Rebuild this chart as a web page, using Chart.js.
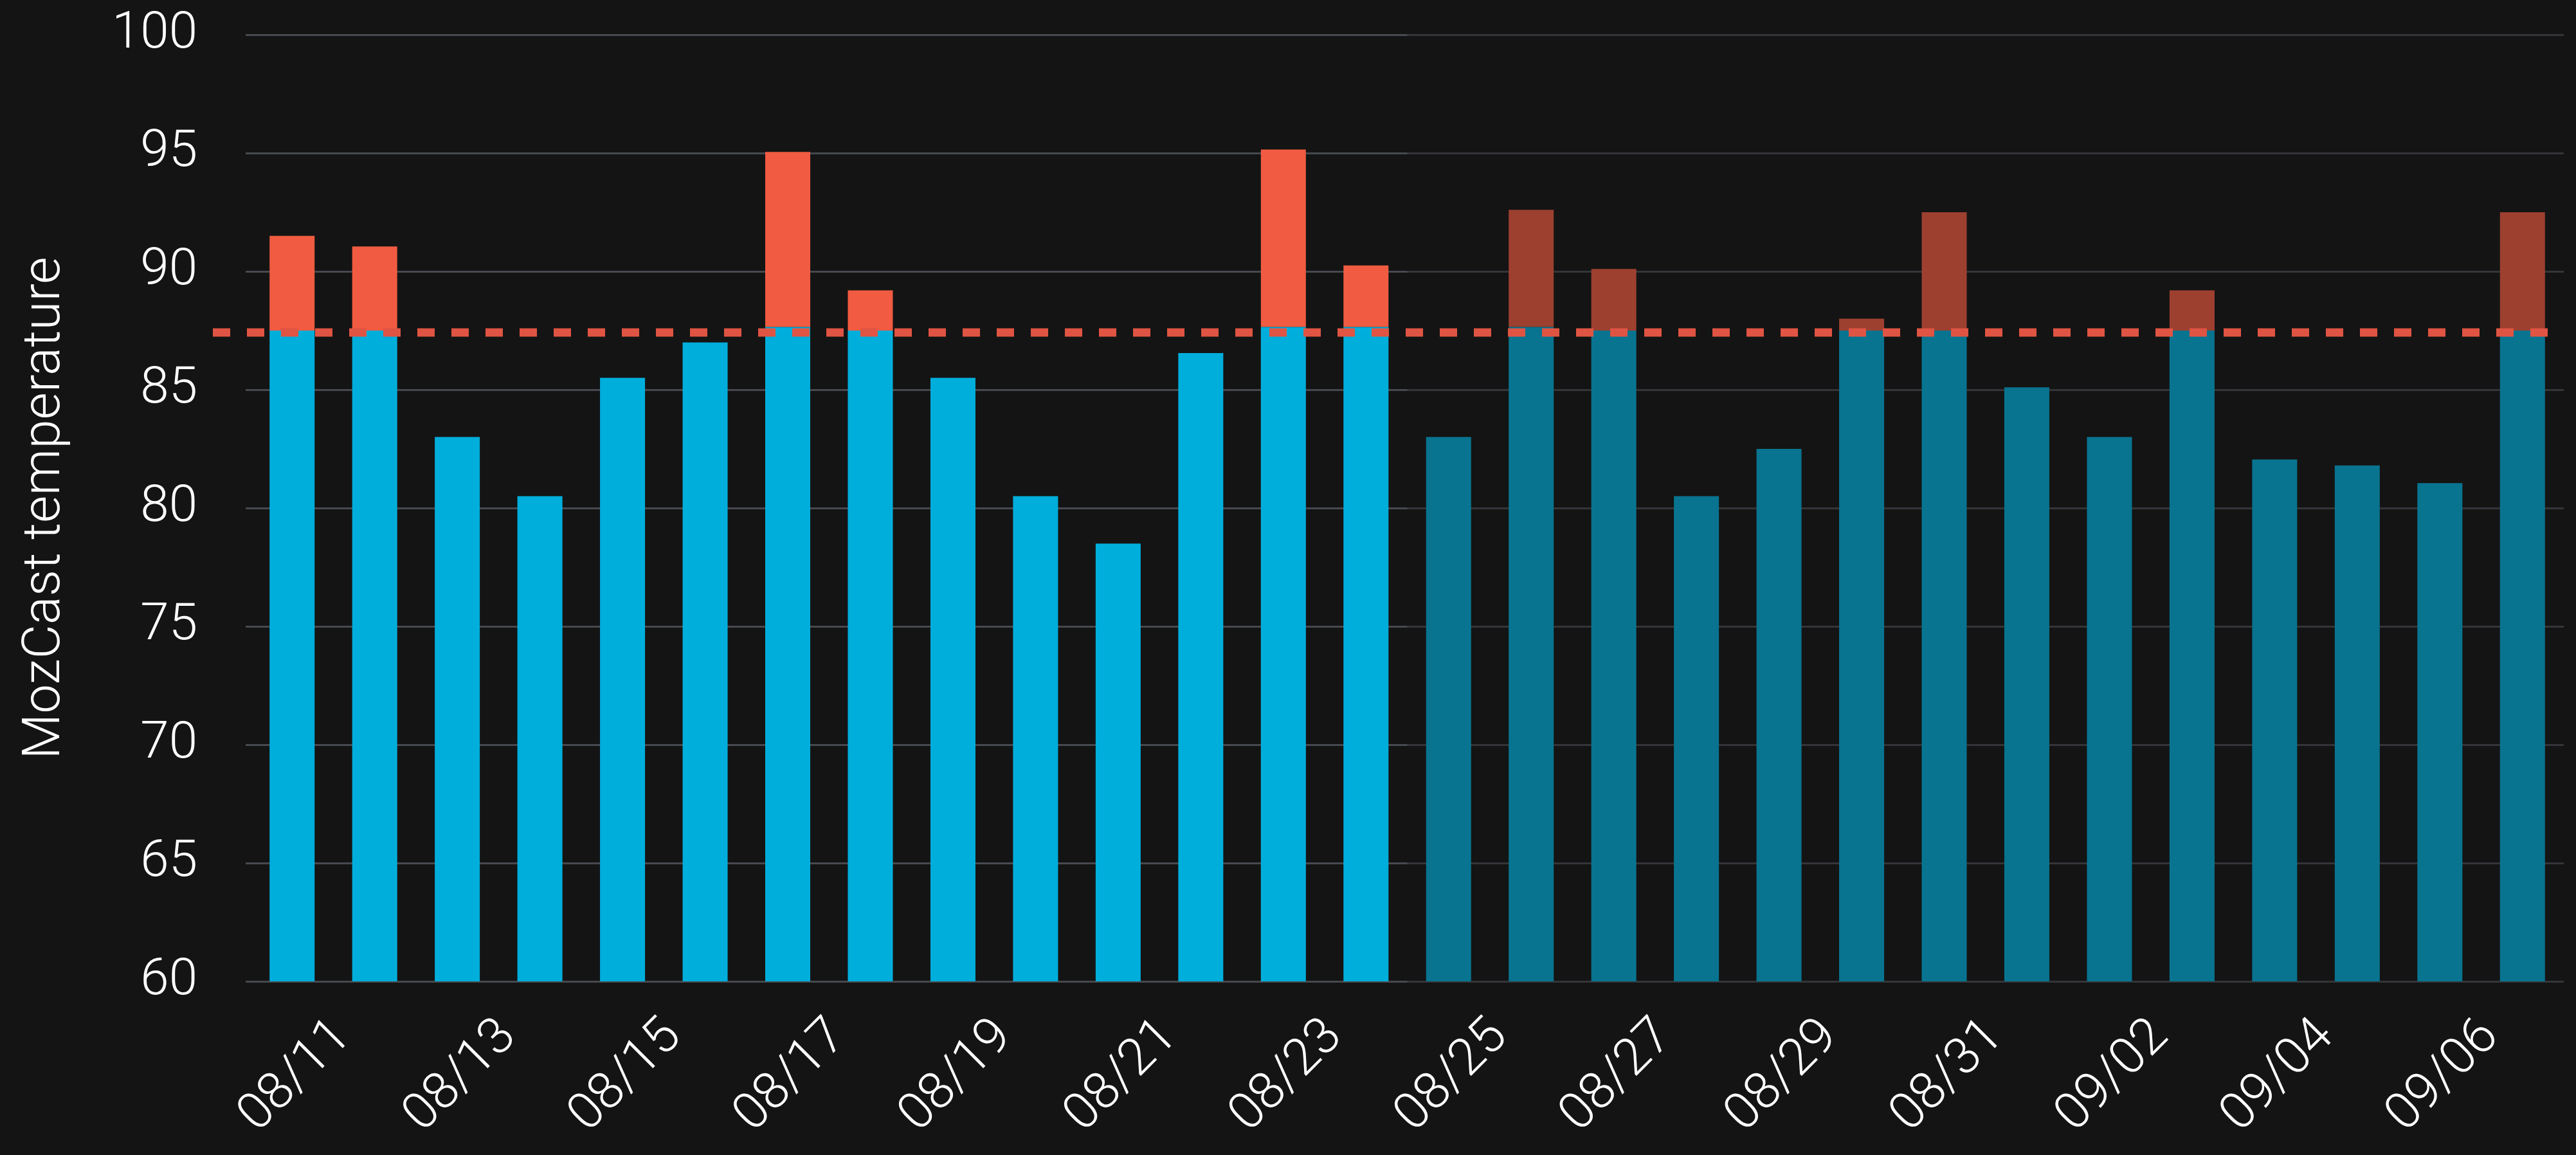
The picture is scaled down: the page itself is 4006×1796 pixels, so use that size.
<!DOCTYPE html>
<html>
  <head>
    <meta charset="utf-8">
    <title>MozCast temperature</title>
    <script src="https://cdn.jsdelivr.net/npm/chart.js@4/dist/chart.umd.min.js"></script>
    <style>
      html, body { margin: 0; padding: 0; background: #141414; }
      canvas { display: block; }
    </style>
  </head>
  <body>
    <canvas id="chart" width="4006" height="1796"></canvas>
    <script>
// days shown on the x axis
var days = ['08/11', '08/12', '08/13', '08/14', '08/15', '08/16', '08/17',
            '08/18', '08/19', '08/20', '08/21', '08/22', '08/23', '08/24',
            '08/25', '08/26', '08/27', '08/28', '08/29', '08/30', '08/31',
            '09/01', '09/02', '09/03', '09/04', '09/05', '09/06', '09/07'];

// full temperature of each day (top of bar)
var temps = [91.5, 91.05, 83.0, 80.5, 85.5, 87.0, 95.05,
             89.2, 85.5, 80.5, 78.5, 86.55, 95.15, 90.25,
             83.0, 92.6, 90.1, 80.5, 82.5, 88.0, 92.5,
             85.1, 83.0, 89.2, 82.05, 81.8, 81.05, 92.5];

// blue part of each bar (the "normal" range)
var normalPart = [87.5, 87.5, 83.0, 80.5, 85.5, 87.0, 87.65,
                  87.5, 85.5, 80.5, 78.5, 86.55, 87.65, 87.65,
                  83.0, 87.65, 87.5, 80.5, 82.5, 87.5, 87.5,
                  85.1, 83.0, 87.5, 82.05, 81.8, 81.05, 87.5];

var yTicks = [60, 65, 70, 75, 80, 85, 90, 95, 100];
var threshold = 87.42;     // dashed line
var shadedFrom = 14;       // first day of the darker part (08/25)

var hotPart = temps.map(function (t, i) {
    return t > normalPart[i] ? [normalPart[i], t] : null;
});

var fontFamily = "Roboto, 'Open Sans', sans-serif";

// darkens the later days, then draws the dashed line on top
var overlayPlugin = {
    id: 'overlay',
    afterDatasetsDraw: function (chart) {
        var ctx = chart.ctx;
        var area = chart.chartArea;
        var x = chart.scales.x;
        var y = chart.scales.y;
        var x0 = (x.getPixelForValue(shadedFrom - 1) + x.getPixelForValue(shadedFrom)) / 2;

        ctx.save();
        ctx.fillStyle = 'rgba(20, 20, 20, 0.38)';
        ctx.fillRect(x0, area.top - 3, area.right + 20 - x0, area.bottom - area.top + 6);

        var yy = y.getPixelForValue(threshold);
        ctx.strokeStyle = '#e05443';
        ctx.lineWidth = 13;
        ctx.setLineDash([27, 26]);
        ctx.beginPath();
        ctx.moveTo(area.left - 59, yy);
        ctx.lineTo(area.right, yy);
        ctx.stroke();
        ctx.restore();
    }
};

var ctx = document.getElementById('chart').getContext('2d');
new Chart(ctx, {
    type: 'bar',
    data: {
        labels: days,
        datasets: [{
            label: 'normal',
            data: normalPart,
            backgroundColor: '#00aedb',
            barPercentage: 0.545,
            categoryPercentage: 1.0
        }, {
            label: 'hot',
            data: hotPart,
            backgroundColor: '#f05b41',
            barPercentage: 0.545,
            categoryPercentage: 1.0
        }]
    },
    options: {
        responsive: false,
        devicePixelRatio: 1,
        animation: false,
        layout: { padding: { top: 54, right: 19, left: 0, bottom: 0 } },
        plugins: {
            legend: { display: false },
            tooltip: { enabled: false }
        },
        scales: {
            x: {
                stacked: true,
                grid: { display: false, drawTicks: false },
                border: { display: false },
                ticks: {
                    autoSkip: false,
                    minRotation: 45,
                    maxRotation: 45,
                    labelOffset: 80,
                    padding: 40,
                    color: '#ffffff',
                    font: { family: fontFamily, size: 80, weight: '300' },
                    callback: function (value, index) {
                        return index % 2 === 0 ? days[index] : '';
                    }
                },
                afterFit: function (scale) {
                    scale.height = 270;
                    scale.paddingLeft = 0;
                    scale.paddingRight = 0;
                }
            },
            y: {
                min: 60,
                max: 100,
                afterBuildTicks: function (scale) {
                    scale.ticks = yTicks.map(function (v) { return { value: v }; });
                },
                grid: {
                    color: '#46494f',
                    lineWidth: 3,
                    tickLength: 8
                },
                border: { display: false },
                ticks: {
                    padding: 75,
                    color: '#ffffff',
                    font: { family: fontFamily, size: 80, weight: '300' }
                },
                title: {
                    display: true,
                    text: 'MozCast temperature',
                    color: '#ffffff',
                    padding: { top: 22, bottom: 0 },
                    font: { family: fontFamily, size: 82, weight: '300' }
                },
                afterFit: function (scale) {
                    scale.width = 390;
                    scale.paddingTop = 0;
                    scale.paddingBottom = 0;
                }
            }
        }
    },
    plugins: [overlayPlugin]
});
    </script>
  </body>
</html>
